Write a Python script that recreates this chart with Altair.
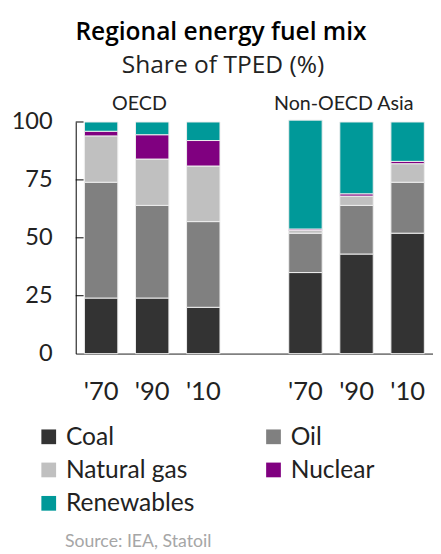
import altair as alt
import pandas as pd

# ---------------- data ----------------
title_text = ["Regional energy fuel mix"]
subtitle_text = ["Share of TPED (%)"]
regions = ["OECD", "Non-OECD Asia"]
region_keys = ["OECD", "Asia"]
years = ["'70", "'90", "'10"]
fuels = ["Coal", "Oil", "Natural gas", "Nuclear", "Renewables"]
fuel_colors = ["#333333", "#808080", "#c0c0c0", "#800080", "#009999"]

oecd_coal = [24, 24, 20]
oecd_oil = [50, 40, 37]
oecd_gas = [20, 20, 24]
oecd_nuclear = [2, 10.5, 11]
oecd_renewables = [4, 5.5, 8]

asia_coal = [35, 43, 52]
asia_oil = [17, 21, 22]
asia_gas = [1.2, 4, 8]
asia_nuclear = [0.6, 1, 1]
asia_renewables = [47, 31, 17]

y_ticks = [0, 25, 50, 75, 100]
inner_ticks = [25, 50, 75, 100]
source_text = ["Source: IEA, Statoil"]

series = {
    "OECD": [oecd_coal, oecd_oil, oecd_gas, oecd_nuclear, oecd_renewables],
    "Asia": [asia_coal, asia_oil, asia_gas, asia_nuclear, asia_renewables],
}

rows = []
for rk in region_keys:
    for i, yr in enumerate(years):
        for j, f in enumerate(fuels):
            rows.append({"key": f"{rk}|{yr}", "fuel": f, "order": j,
                         "value": series[rk][j][i]})
df = pd.DataFrame(rows)

x_domain = [f"OECD|{y}" for y in years] + ["|"] + [f"Asia|{y}" for y in years]

FONT = "Lato"
TITLE_FONT = "Open Sans"

x_scale = alt.Scale(domain=x_domain, paddingInner=0.346, paddingOuter=0.17)
y_scale = alt.Scale(domain=[0, 100], nice=False)

bars = alt.Chart(df).mark_bar(stroke="#eeeeee", strokeWidth=1).encode(
    x=alt.X("key:N", scale=x_scale, sort=x_domain,
            axis=alt.Axis(title=None, labelExpr="split(datum.value, '|')[1]",
                          labelFontSize=26, labelPadding=26, ticks=False,
                          domainColor="#808080", domainWidth=2,
                          labelColor="#222222", labelAngle=0)),
    y=alt.Y("value:Q", stack="zero", scale=y_scale,
            axis=alt.Axis(title=None, values=y_ticks, ticks=False,
                          labelPadding=24, labelFontSize=24,
                          labelColor="#222222",
                          domainColor="black", domainWidth=1,
                          grid=False)),
    color=alt.Color("fuel:N", scale=alt.Scale(domain=fuels, range=fuel_colors),
                    legend=alt.Legend(title=None, orient="none", legendX=-40,
                                      legendY=308, columns=2,
                                      direction="horizontal",
                                      symbolType="square", symbolSize=225,
                                      labelFontSize=25, labelColor="#222222",
                                      rowPadding=8, columnPadding=68,
                                      symbolStrokeWidth=0, labelOffset=5,
                                      symbolOpacity=1)),
    order=alt.Order("order:Q", sort="ascending"),
)

tick_rules = alt.Chart(pd.DataFrame({"v": inner_ticks})).mark_rule(
    color="black", strokeWidth=1
).encode(y=alt.Y("v:Q", scale=y_scale), x=alt.value(0), x2=alt.value(8))

grp = pd.DataFrame({"key": ["OECD|'90", "Asia|'90"], "label": regions})
group_labels = alt.Chart(grp).mark_text(
    dx=-13, fontSize=20, baseline="alphabetic", color="#222222"
).encode(x=alt.X("key:N", scale=x_scale), y=alt.value(-12), text="label:N")

title = alt.Chart(pd.DataFrame({"t": title_text})).mark_text(
    align="center", baseline="alphabetic", fontSize=25, fontWeight=600,
    font=TITLE_FONT, color="black"
).encode(x=alt.value(148), y=alt.value(-84), text="t:N")

subtitle = alt.Chart(pd.DataFrame({"t": subtitle_text})).mark_text(
    align="center", baseline="alphabetic", fontSize=25, fontWeight="normal",
    font=TITLE_FONT, color="#222222"
).encode(x=alt.value(150), y=alt.value(-50), text="t:N")

source = alt.Chart(pd.DataFrame({"t": source_text})).mark_text(
    align="left", baseline="middle", fontSize=18, color="#a6a6a6"
).encode(x=alt.value(-11), y=alt.value(428), text="t:N")

chart = alt.layer(bars, tick_rules, group_labels, title, subtitle, source).properties(
    width=364, height=236,
    autosize=alt.AutoSizeParams(type="none"),
    padding={"left": 69, "right": 0, "top": 111, "bottom": 199},
).configure(
    font=FONT,
    view={"stroke": None},
)

chart.save("out.html", embed_options={"renderer": "svg", "actions": False})
